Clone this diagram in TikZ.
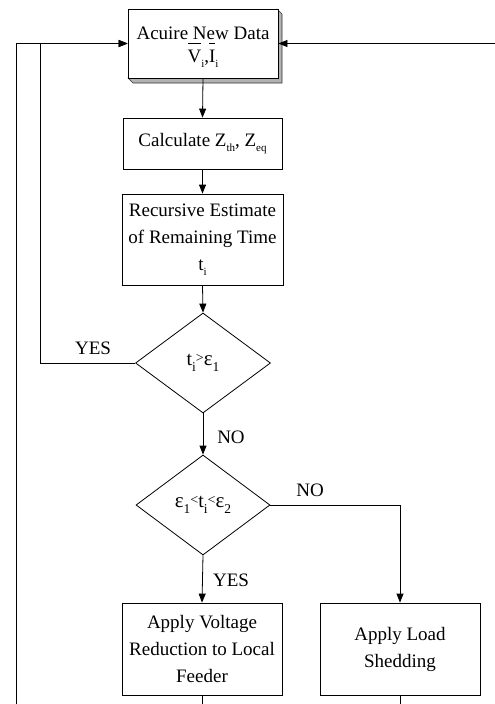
\documentclass[tikz,border=0pt]{standalone}
\usepackage{fontspec}
\setmainfont{Liberation Serif}
\usetikzlibrary{arrows.meta,shapes.geometric}
\newcommand{\lo}[1]{\raisebox{-0.6ex}{\fontsize{11}{11}\selectfont #1}}
\newcommand{\slo}[1]{\raisebox{-0.7ex}{\fontsize{13.5}{12}\selectfont #1}}
\newcommand{\sm}[1]{\raisebox{0.3ex}{\fontsize{14}{12}\selectfont #1}}
\newcommand{\eps}{{\fontsize{21}{21}\selectfont ε}}
\newcommand{\ob}[1]{$\overline{\mbox{\rule{0pt}{18pt}#1}}$}
\begin{document}
\begin{tikzpicture}[x=1pt,y=-1pt,
  every node/.style={font=\fontsize{19}{27}\selectfont},
  box/.style={draw, line width=0.8pt, align=center, inner sep=0pt, fill=white},
  dia/.style={draw, diamond, line width=0.8pt, inner sep=0pt, align=center},
  conn/.style={line width=0.8pt},
  arr/.style={line width=0.8pt, -{Triangle[length=9pt,width=7pt]}},
  lbl/.style={inner sep=0pt}]
\useasboundingbox (0,0) rectangle (495,704);
% shadow of first box
\filldraw[fill=gray!60, draw=black!80, line width=0.6pt]
  (128,78) -- (133,83) -- (282,83) -- (282,14) -- (277,9) -- cycle;
\node[box, minimum width=150pt, minimum height=69pt] (b1) at (203,43.5) {};
\node[lbl, align=center] (b1t) at (203,47.5)
  {Acuire New Data\\[-4pt]\ob{V}\lo{i},\ob{I}\lo{i}};
\node[box, minimum width=159pt, minimum height=51pt] (b2) at (202.5,143.5)
  {Calculate Z\lo{th}, Z\lo{eq}};
\node[box, minimum width=161pt, minimum height=91pt] (b3) at (202.5,239.5)
  {Recursive Estimate\\of Remaining Time\\t\lo{i}};
\node[dia, minimum width=135pt, minimum height=100pt] (d1) at (203,363)
  {\fontsize{20}{20}\selectfont t\slo{i}\sm{>}\eps\slo{1}};
\node[dia, minimum width=134pt, minimum height=100pt] (d2) at (203,505)
  {\fontsize{20}{20}\selectfont \eps\slo{1}\sm{<}t\slo{i}\sm{<}\eps\slo{2}};
\node[box, minimum width=160pt, minimum height=92pt] (b4) at (202,649)
  {Apply Voltage\\Reduction to Local\\Feeder};
\node[box, minimum width=160pt, minimum height=92pt] (b5) at (400,649)
  {Apply Load\\Shedding};
\coordinate (lin) at (40,363);
\coordinate (lout) at (16,704);
\coordinate (rin) at (495,43.5);
\coordinate (b4d) at (202,704);
\coordinate (b5d) at (400,704);
\draw[arr] (b1.south) -- (b2.north);
\draw[arr] (b2.south) -- (b3.north);
\draw[arr] (b3.south) -- (d1.north);
\draw[arr] (d1.south) -- (d2.north);
\draw[arr] (d2.south) -- (b4.north);
\draw[arr] (d2.east) -| (b5.north);
\draw[arr] (d1.west) -- (lin) |- (b1.west);
\draw[arr] (lout) |- (b1.west);
\draw[arr] (rin) -- (b1.east);
\draw[conn] (b4.south) -- (b4d);
\draw[conn] (b5.south) -- (b5d);
\node[lbl] (yes1) at (93,348) {YES};
\node[lbl] (no1) at (231,437) {NO};
\node[lbl] (no2) at (310,490) {NO};
\node[lbl] (yes2) at (231,580) {YES};
\end{tikzpicture}
\end{document}
